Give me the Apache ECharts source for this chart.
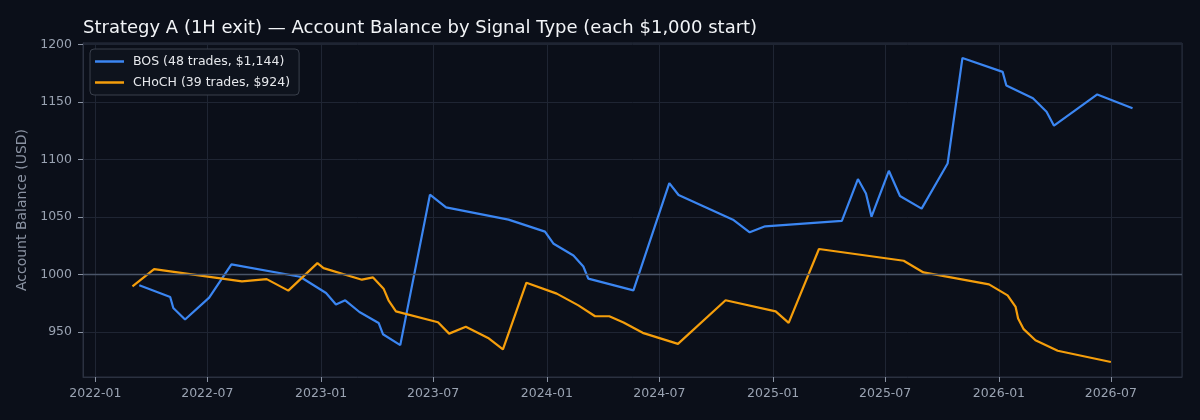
<!DOCTYPE html>
<html>

<head>
    <meta charset="utf-8">
    <title>Strategy A - Balance by Signal</title>
    <script src="https://cdn.jsdelivr.net/npm/echarts@6/dist/echarts.min.js"></script>
    <style>
        html, body { margin: 0; padding: 0; background: #0b0f19; }
    </style>
</head>

<body>
    <div id="main" style="width: 1200px;height:420px;"></div>
    <script type="text/javascript">
    // BOS equity curve
    var bosDates = ['2022-03-13', '2022-05-02', '2022-05-07', '2022-05-26', '2022-07-04', '2022-08-09',
        '2022-11-28', '2023-01-09', '2023-01-25', '2023-02-09', '2023-03-04', '2023-04-04', '2023-04-11',
        '2023-05-09', '2023-06-26', '2023-07-22', '2023-10-31', '2023-12-29', '2024-01-12', '2024-02-13',
        '2024-02-29', '2024-03-08', '2024-05-20', '2024-07-17', '2024-08-01', '2024-10-28', '2024-11-24',
        '2024-12-19', '2025-04-22', '2025-05-18', '2025-05-31', '2025-06-09', '2025-07-07', '2025-07-25',
        '2025-08-29', '2025-10-10', '2025-11-03', '2026-01-07', '2026-01-13', '2026-02-25', '2026-03-19',
        '2026-03-31', '2026-06-09', '2026-08-05'];
    var bosBalance = [990.5, 980.3, 970.8, 960.8, 979.8, 1008.7,
        998.0, 983.8, 973.8, 977.5, 967.3, 957.8, 948.0,
        938.5, 1069.3, 1058.3, 1047.6, 1037.2, 1026.6, 1016.5,
        1006.9, 996.3, 986.1, 1079.4, 1069.0, 1047.6, 1036.6,
        1041.8, 1046.5, 1082.9, 1070.4, 1050.2, 1090.1, 1068.2,
        1057.2, 1096.4, 1188.2, 1176.1, 1164.3, 1153.1, 1141.4,
        1129.3, 1156.5, 1144.4];

    // CHoCH equity curve
    var chochDates = ['2022-03-02', '2022-04-06', '2022-08-26', '2022-10-05', '2022-11-09', '2022-12-26',
        '2023-01-05', '2023-03-08', '2023-03-26', '2023-04-12', '2023-04-20', '2023-05-02', '2023-07-09',
        '2023-07-27', '2023-08-23', '2023-09-28', '2023-10-22', '2023-11-29', '2024-01-17', '2024-02-21',
        '2024-03-19', '2024-04-11', '2024-05-04', '2024-06-04', '2024-07-31', '2024-10-16', '2025-01-05',
        '2025-01-26', '2025-03-16', '2025-07-31', '2025-09-01', '2025-12-16', '2026-01-15', '2026-01-28',
        '2026-02-01', '2026-02-10', '2026-03-01', '2026-04-06', '2026-07-01'];
    var chochBalance = [989.6, 1004.6, 993.9, 995.9, 985.9, 1009.8,
        1005.5, 995.4, 997.4, 987.6, 977.5, 967.9, 958.4,
        948.5, 954.4, 944.8, 934.8, 992.8, 983.3, 973.1,
        963.6, 963.6, 958.2, 949.2, 939.6, 977.5, 967.9,
        957.8, 1022.1, 1011.9, 1001.7, 991.3, 981.8, 971.7,
        961.6, 952.4, 942.8, 933.6, 923.8];

    var seriesNames = ['BOS (48 trades, $1,144)', 'CHoCH (39 trades, $924)'];
    var startBalance = 1000;

    var myChart = echarts.init(document.getElementById('main'));

    function zip(d, v) {
        return d.map(function (t, i) { return [t, v[i]]; });
    }

    var DAY = 86400000;
    var font = 'DejaVu Sans';
    var gridColor = '#1f2533';
    var frameColor = '#2b3140';
    var tickText = '#9aa3b2';

    var option = {
        backgroundColor: '#0b0f19',
        animation: false,
        textStyle: { fontFamily: font },
        title: {
            text: 'Strategy A (1H exit) — Account Balance by Signal Type (each $1,000 start)',
            left: 78,
            top: 14,
            textStyle: { color: '#f2f4f7', fontSize: 18, fontWeight: 'normal', fontFamily: font }
        },
        legend: {
            orient: 'vertical',
            left: 90,
            top: 49,
            data: seriesNames,
            icon: 'rect',
            itemWidth: 29,
            itemHeight: 2.5,
            itemGap: 8,
            padding: [6, 9, 6, 5],
            backgroundColor: '#0e131d',
            borderColor: '#3a404c',
            borderWidth: 1,
            borderRadius: 4,
            textStyle: { color: '#e6e8ec', fontSize: 12.5, fontFamily: font, padding: [0, 0, 0, 4] }
        },
        grid: {
            left: 83,
            right: 18,
            top: 43,
            bottom: 43,
            show: true,
            borderColor: frameColor,
            borderWidth: 1
        },
        xAxis: {
            type: 'time',
            min: '2021-12-12',
            max: '2026-10-24',
            splitNumber: 8,
            minInterval: 170 * DAY,
            maxInterval: 190 * DAY,
            axisLine: { show: true, lineStyle: { color: frameColor } },
            axisTick: { show: true, length: 5, lineStyle: { color: '#8a93a3' } },
            splitLine: { show: true, lineStyle: { color: gridColor, width: 1 } },
            axisLabel: {
                color: tickText,
                fontSize: 12.5,
                fontFamily: font,
                margin: 10,
                showMinLabel: false,
                showMaxLabel: false,
                formatter: function (v) { return echarts.time.format(v, '{yyyy}-{MM}', false); }
            }
        },
        yAxis: {
            type: 'value',
            min: 910.8,
            max: 1201.2,
            splitNumber: 6,
            name: 'Account Balance (USD)',
            nameLocation: 'middle',
            nameGap: 51,
            nameTextStyle: { color: '#8b93a3', fontSize: 14, fontFamily: font },
            axisLine: { show: true, lineStyle: { color: frameColor } },
            axisTick: { show: true, length: 5, lineStyle: { color: '#8a93a3' } },
            splitLine: { show: true, lineStyle: { color: gridColor, width: 1 } },
            axisLabel: {
                color: tickText,
                fontSize: 12.5,
                fontFamily: font,
                margin: 11,
                showMinLabel: false,
                showMaxLabel: false,
                formatter: function (v) { return String(v); }
            }
        },
        series: [{
                name: seriesNames[0],
                type: 'line',
                showSymbol: false,
                symbol: 'none',
                data: zip(bosDates, bosBalance),
                lineStyle: { color: '#3b86f2', width: 2.2 },
                itemStyle: { color: '#3b86f2' },
                z: 3,
                markLine: {
                    silent: true,
                    symbol: 'none',
                    label: { show: false },
                    lineStyle: { color: '#4a5568', width: 1.3, type: 'solid' },
                    data: [{ yAxis: startBalance }]
                }
            },
            {
                name: seriesNames[1],
                type: 'line',
                showSymbol: false,
                symbol: 'none',
                data: zip(chochDates, chochBalance),
                lineStyle: { color: '#f59e0b', width: 2.2 },
                itemStyle: { color: '#f59e0b' },
                z: 3
            }
        ]
    };

    myChart.setOption(option);
    </script>
</body>

</html>
